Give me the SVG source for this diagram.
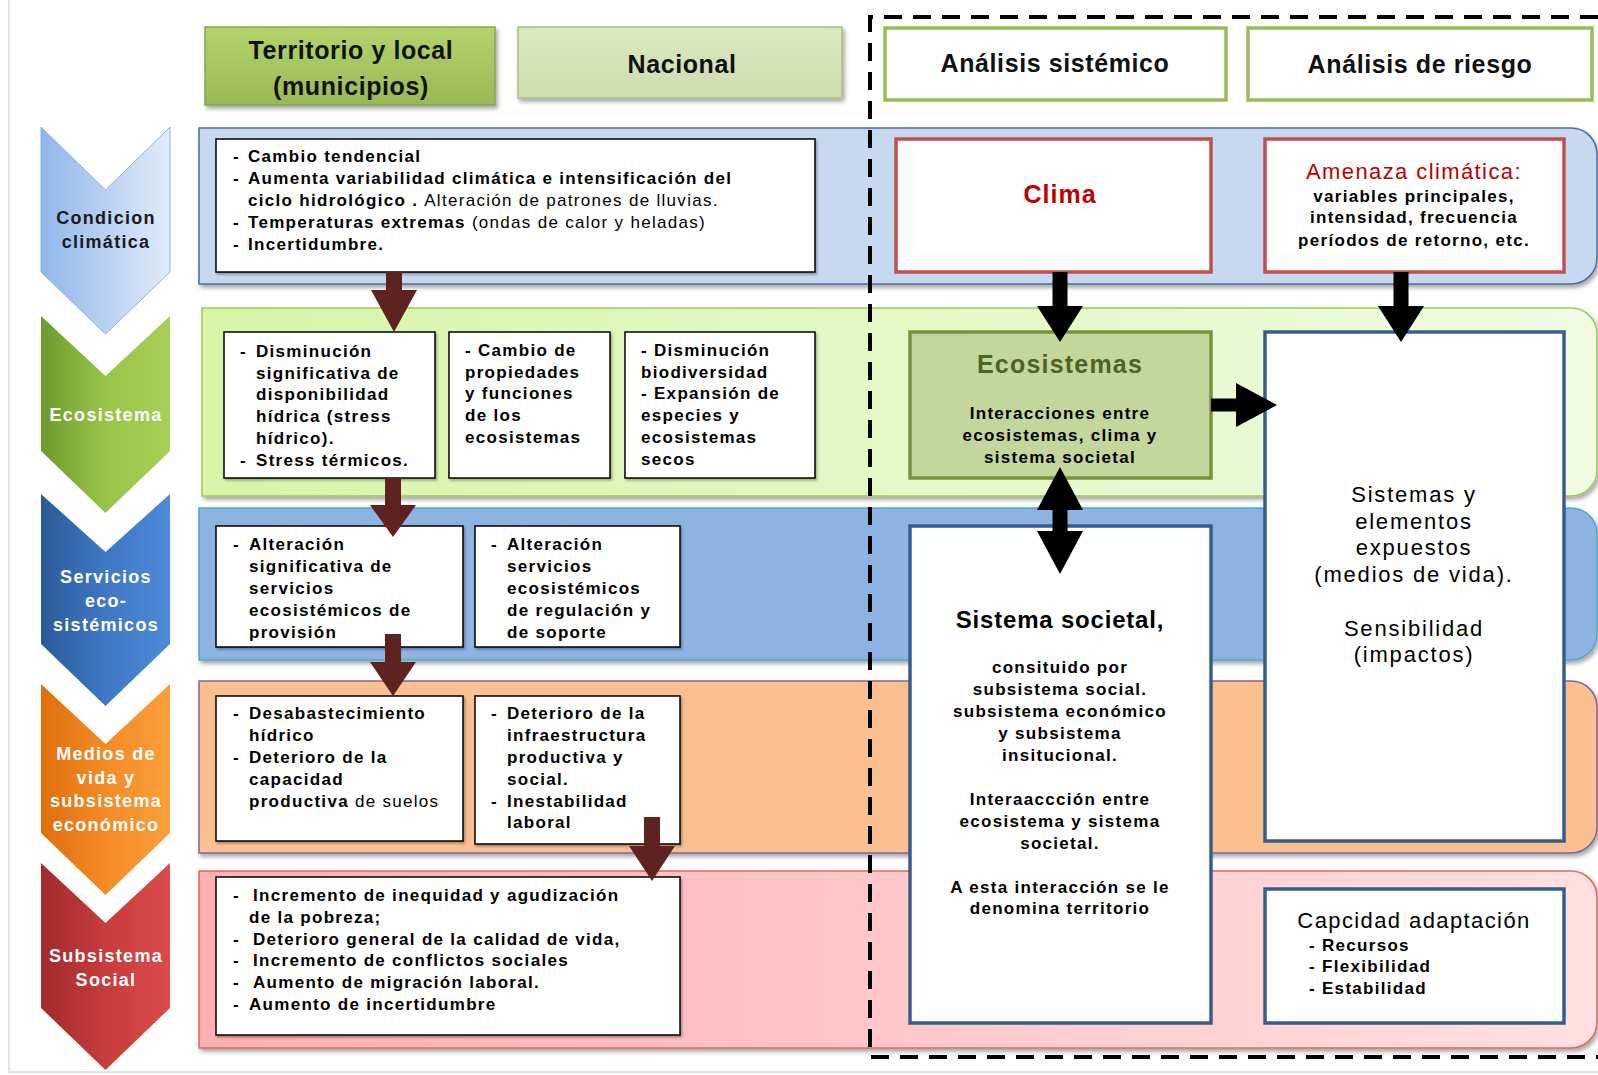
<svg xmlns="http://www.w3.org/2000/svg" width="1598" height="1075" viewBox="0 0 1598 1075">
<defs>
<style>
.t{font-family:"Liberation Sans Narrow","Liberation Sans",Arial,sans-serif;font-weight:bold;font-size:17px;letter-spacing:1.3px;fill:#000}
.n{font-weight:normal}
.hd{font-family:"Liberation Sans",Arial,sans-serif;font-weight:bold;font-size:25px;letter-spacing:0.6px;fill:#111;text-anchor:middle}
.chv{font-family:"Liberation Sans",Arial,sans-serif;font-weight:bold;font-size:18px;letter-spacing:1.3px;fill:#fff;text-anchor:middle}
.c{text-anchor:middle}
.box{fill:#fff;stroke:#000;stroke-width:1.5}
.rbox{fill:#fff;stroke:#C0504D;stroke-width:3.5}
.bbox{fill:#fff;stroke:#385D8A;stroke-width:3.5}
.ah{fill:#fff;stroke:#9BBB59;stroke-width:3.5}
.big{font-family:"Liberation Sans",Arial,sans-serif;font-size:22px;letter-spacing:1.8px;fill:#000;text-anchor:middle}
.darr{fill:#5E2221}
.karr{fill:#000}
</style>
<filter id="sh" x="-5%" y="-5%" width="110%" height="120%"><feDropShadow dx="2" dy="3" stdDeviation="2" flood-color="#000" flood-opacity="0.35"/></filter>
<filter id="sh2" x="-5%" y="-5%" width="110%" height="120%"><feDropShadow dx="1.5" dy="2" stdDeviation="1.2" flood-color="#000" flood-opacity="0.3"/></filter>
<linearGradient id="gC" x1="0" y1="0" x2="1" y2="0"><stop offset="0" stop-color="#8FB6EA"/><stop offset="1" stop-color="#E2ECFA"/></linearGradient>
<linearGradient id="gE" x1="0" y1="0" x2="1" y2="0"><stop offset="0" stop-color="#6E9A2E"/><stop offset="0.5" stop-color="#98C548"/><stop offset="1" stop-color="#A6D056"/></linearGradient>
<linearGradient id="gS" x1="0" y1="0" x2="1" y2="0"><stop offset="0" stop-color="#2C5A98"/><stop offset="0.5" stop-color="#3F78C4"/><stop offset="1" stop-color="#4D8AD8"/></linearGradient>
<linearGradient id="gM" x1="0" y1="0" x2="1" y2="0"><stop offset="0" stop-color="#DE700E"/><stop offset="0.5" stop-color="#F48A26"/><stop offset="1" stop-color="#FA9F3C"/></linearGradient>
<linearGradient id="gR" x1="0" y1="0" x2="1" y2="0"><stop offset="0" stop-color="#A12B2B"/><stop offset="0.5" stop-color="#C83C3C"/><stop offset="1" stop-color="#DC4A4A"/></linearGradient>
<linearGradient id="bE" x1="0" y1="0" x2="1" y2="0"><stop offset="0" stop-color="#D6F5A8"/><stop offset="1" stop-color="#F0FBE2"/></linearGradient>
<linearGradient id="bR" x1="0" y1="0" x2="1" y2="0"><stop offset="0" stop-color="#FFB0B0"/><stop offset="1" stop-color="#FFE0E0"/></linearGradient>
<linearGradient id="hT" x1="0" y1="0" x2="0" y2="1"><stop offset="0" stop-color="#B4D36C"/><stop offset="1" stop-color="#98B956"/></linearGradient>
<linearGradient id="hN" x1="0" y1="0" x2="0" y2="1"><stop offset="0" stop-color="#DAE7C0"/><stop offset="1" stop-color="#CFDEAF"/></linearGradient>
</defs>
<rect width="1598" height="1075" fill="#fff"/>
<path d="M9,0 V1072 H1598" fill="none" stroke="#E3E3E3" stroke-width="2"/>

<!-- bands -->
<g id="bands">
<path d="M199,128 H1571 A26,26 0 0 1 1597,154 V258 A26,26 0 0 1 1571,284 H199 Z" fill="#C6D9F1" stroke="#4F6C96" stroke-width="1.5" filter="url(#sh)"/>
<path d="M202,308 H1571 A26,26 0 0 1 1597,334 V470 A26,26 0 0 1 1571,496 H202 Z" fill="url(#bE)" stroke="#9BCB5A" stroke-width="1.5" filter="url(#sh)"/>
<path d="M199,508 H1571 A26,26 0 0 1 1597,534 V634 A26,26 0 0 1 1571,660 H199 Z" fill="#8DB3E2" stroke="#4BACC6" stroke-width="1.5" filter="url(#sh)"/>
<path d="M199,681 H1571 A26,26 0 0 1 1597,707 V827 A26,26 0 0 1 1571,853 H199 Z" fill="#FAC090" stroke="#8064A2" stroke-width="1.5" filter="url(#sh)"/>
<path d="M199,871 H1571 A26,26 0 0 1 1597,897 V1022 A26,26 0 0 1 1571,1048 H199 Z" fill="url(#bR)" stroke="#E06666" stroke-width="1.5" filter="url(#sh)"/>
</g>

<!-- left chevrons -->
<g id="chev-condicion">
<path d="M41,127 L105.5,190 L170,127 V272 L105.5,334 L41,272 Z" fill="url(#gC)" stroke="#8FB0DC" stroke-width="1"/>
<text class="chv" style="fill:#1a1a1a" x="106" y="224">Condicion</text>
<text class="chv" style="fill:#1a1a1a" x="106" y="248">climática</text>
</g>
<g id="chev-ecosistema">
<path d="M41,316 L105.5,376 L170,316 V451 L105.5,513 L41,451 Z" fill="url(#gE)"/>
<text class="chv" x="106" y="421">Ecosistema</text>
</g>
<g id="chev-servicios">
<path d="M41,494 L105.5,552 L170,494 V644 L105.5,706 L41,644 Z" fill="url(#gS)"/>
<text class="chv" x="106" y="583">Servicios</text>
<text class="chv" x="106" y="607">eco-</text>
<text class="chv" x="106" y="631">sistémicos</text>
</g>
<g id="chev-medios">
<path d="M41,684 L105.5,744 L170,684 V833 L105.5,895 L41,833 Z" fill="url(#gM)"/>
<text class="chv" x="106" y="760">Medios de</text>
<text class="chv" x="106" y="784">vida  y</text>
<text class="chv" x="106" y="807">subsistema</text>
<text class="chv" x="106" y="831">económico</text>
</g>
<g id="chev-social">
<path d="M41,863 L105.5,923 L170,863 V1008 L105.5,1070 L41,1008 Z" fill="url(#gR)"/>
<text class="chv" x="106" y="962">Subsistema</text>
<text class="chv" x="106" y="986">Social</text>
</g>

<!-- headers -->
<g id="hdr-territorio">
<rect x="205" y="27" width="290" height="78" fill="url(#hT)" stroke="#86A548" stroke-width="1.5" filter="url(#sh)"/>
<text class="hd" x="351" y="59">Territorio y local</text>
<text class="hd" x="351" y="95">(municipios)</text>
</g>
<g id="hdr-nacional">
<rect x="518" y="27" width="324" height="71" fill="url(#hN)" stroke="#A9BE84" stroke-width="1.5" filter="url(#sh)"/>
<text class="hd" x="682" y="73">Nacional</text>
</g>
<g id="hdr-sistemico">
<rect x="885" y="28" width="341" height="72" class="ah"/>
<text class="hd" x="1055" y="72">Análisis sistémico</text>
</g>
<g id="hdr-riesgo">
<rect x="1248" y="28" width="344" height="72" class="ah"/>
<text class="hd" x="1420" y="73">Análisis de riesgo</text>
</g>

<!-- left content boxes -->
<g id="box-condicion">
<rect x="216" y="139" width="599" height="133" class="box" filter="url(#sh2)"/>
<text class="t" x="233" y="162">-</text><text class="t" x="248" y="162">Cambio tendencial</text>
<text class="t" x="233" y="184">-</text><text class="t" x="248" y="184">Aumenta variabilidad  climática e intensificación  del</text>
<text class="t" x="248" y="206">ciclo hidrológico . <tspan class="n">Alteración de patrones de lluvias.</tspan></text>
<text class="t" x="233" y="228">-</text><text class="t" x="248" y="228">Temperaturas  extremas  <tspan class="n">(ondas de calor y heladas)</tspan></text>
<text class="t" x="233" y="250">-</text><text class="t" x="248" y="250">Incertidumbre.</text>
</g>

<g id="box-eco1">
<rect x="224" y="332" width="211" height="146" class="box" filter="url(#sh2)"/>
<text class="t" x="240" y="357">-</text><text class="t" x="256" y="357">Disminución</text>
<text class="t" x="256" y="379">significativa de</text>
<text class="t" x="256" y="400">disponibilidad</text>
<text class="t" x="256" y="422">hídrica (stress</text>
<text class="t" x="256" y="444">hídrico).</text>
<text class="t" x="240" y="466">-</text><text class="t" x="256" y="466">Stress térmicos.</text>
</g>
<g id="box-eco2">
<rect x="449" y="332" width="161" height="146" class="box" filter="url(#sh2)"/>
<text class="t" x="465" y="356">- Cambio de</text>
<text class="t" x="465" y="378">propiedades</text>
<text class="t" x="465" y="399">y funciones</text>
<text class="t" x="465" y="421">de los</text>
<text class="t" x="465" y="443">ecosistemas</text>
</g>
<g id="box-eco3">
<rect x="625" y="332" width="190" height="146" class="box" filter="url(#sh2)"/>
<text class="t" x="641" y="356">- Disminución</text>
<text class="t" x="641" y="378">biodiversidad</text>
<text class="t" x="641" y="399">- Expansión  de</text>
<text class="t" x="641" y="421">especies  y</text>
<text class="t" x="641" y="443">ecosistemas</text>
<text class="t" x="641" y="465">secos</text>
</g>

<g id="box-serv1">
<rect x="216" y="526" width="247" height="121" class="box" filter="url(#sh2)"/>
<text class="t" x="233" y="550">-</text><text class="t" x="249" y="550">Alteración</text>
<text class="t" x="249" y="572">significativa de</text>
<text class="t" x="249" y="594">servicios</text>
<text class="t" x="249" y="616">ecosistémicos  de</text>
<text class="t" x="249" y="638">provisión</text>
</g>
<g id="box-serv2">
<rect x="475" y="526" width="205" height="121" class="box" filter="url(#sh2)"/>
<text class="t" x="491" y="550">-</text><text class="t" x="507" y="550">Alteración</text>
<text class="t" x="507" y="572">servicios</text>
<text class="t" x="507" y="594">ecosistémicos</text>
<text class="t" x="507" y="616">de regulación  y</text>
<text class="t" x="507" y="638">de soporte</text>
</g>

<g id="box-medios1">
<rect x="216" y="696" width="247" height="145" class="box" filter="url(#sh2)"/>
<text class="t" x="233" y="719">-</text><text class="t" x="249" y="719">Desabastecimiento</text>
<text class="t" x="249" y="741">hídrico</text>
<text class="t" x="233" y="763">-</text><text class="t" x="249" y="763">Deterioro  de la</text>
<text class="t" x="249" y="785">capacidad</text>
<text class="t" x="249" y="807">productiva <tspan class="n">de suelos</tspan></text>
</g>
<g id="box-medios2">
<rect x="475" y="696" width="205" height="148" class="box" filter="url(#sh2)"/>
<text class="t" x="491" y="719">-</text><text class="t" x="507" y="719">Deterioro  de la</text>
<text class="t" x="507" y="741">infraestructura</text>
<text class="t" x="507" y="763">productiva y</text>
<text class="t" x="507" y="785">social.</text>
<text class="t" x="491" y="807">-</text><text class="t" x="507" y="807">Inestabilidad</text>
<text class="t" x="507" y="828">laboral</text>
</g>

<g id="box-social">
<rect x="216" y="877" width="464" height="158" class="box" filter="url(#sh2)"/>
<text class="t" x="233" y="901">-</text><text class="t" x="253" y="901">Incremento  de inequidad y agudización</text>
<text class="t" x="249" y="923">de la pobreza;</text>
<text class="t" x="233" y="945">-</text><text class="t" x="253" y="945">Deterioro  general  de la calidad de vida,</text>
<text class="t" x="233" y="966">-</text><text class="t" x="253" y="966">Incremento  de conflictos  sociales</text>
<text class="t" x="233" y="988">-</text><text class="t" x="253" y="988">Aumento  de migración laboral.</text>
<text class="t" x="233" y="1010">-</text><text class="t" x="249" y="1010">Aumento  de incertidumbre</text>
</g>

<!-- right side nodes -->
<g id="node-clima">
<rect x="896" y="139" width="315" height="133" class="rbox"/>
<text x="1060" y="203" style="font-family:'Liberation Sans',Arial,sans-serif;font-weight:bold;font-size:25px;letter-spacing:1px;fill:#C00000;text-anchor:middle">Clima</text>
</g>
<g id="node-amenaza">
<rect x="1265" y="139" width="299" height="133" class="rbox"/>
<text x="1414" y="179" style="font-family:'Liberation Sans',Arial,sans-serif;font-size:22px;letter-spacing:1.4px;fill:#C00000;text-anchor:middle">Amenaza climática:</text>
<text class="t c" x="1414" y="202">variables principales,</text>
<text class="t c" x="1414" y="223">intensidad,  frecuencia</text>
<text class="t c" x="1414" y="246">períodos de retorno, etc.</text>
</g>
<g id="node-ecosistemas">
<rect x="910" y="332" width="301" height="146" fill="#C3D69B" stroke="#77933C" stroke-width="3.5"/>
<text x="1060" y="373" style="font-family:'Liberation Sans',Arial,sans-serif;font-weight:bold;font-size:25px;letter-spacing:1.2px;fill:#4F6228;text-anchor:middle">Ecosistemas</text>
<text class="t c" x="1060" y="419">Interacciones  entre</text>
<text class="t c" x="1060" y="441">ecosistemas,  clima  y</text>
<text class="t c" x="1060" y="463">sistema societal</text>
</g>
<g id="node-expuestos">
<rect x="1265" y="332" width="299" height="509" class="bbox"/>
<text class="big" x="1414" y="502">Sistemas y</text>
<text class="big" x="1414" y="529">elementos</text>
<text class="big" x="1414" y="555">expuestos</text>
<text class="big" x="1414" y="582">(medios  de vida).</text>
<text class="big" x="1414" y="636">Sensibilidad</text>
<text class="big" x="1414" y="662">(impactos)</text>
</g>
<g id="node-societal">
<rect x="910" y="526" width="301" height="497" class="bbox"/>
<text x="1060" y="628" style="font-family:'Liberation Sans',Arial,sans-serif;font-weight:bold;font-size:24px;letter-spacing:0.8px;fill:#000;text-anchor:middle">Sistema societal,</text>
<text class="t c" x="1060" y="673">consituido por</text>
<text class="t c" x="1060" y="695">subsistema social.</text>
<text class="t c" x="1060" y="717">subsistema económico</text>
<text class="t c" x="1060" y="739">y subsistema</text>
<text class="t c" x="1060" y="761">insitucional.</text>
<text class="t c" x="1060" y="805">Interaaccción  entre</text>
<text class="t c" x="1060" y="827">ecosistema y sistema</text>
<text class="t c" x="1060" y="849">societal.</text>
<text class="t c" x="1060" y="893">A esta interacción  se le</text>
<text class="t c" x="1060" y="914">denomina territorio</text>
</g>
<g id="node-capacidad">
<rect x="1265" y="889" width="299" height="134" class="bbox"/>
<text x="1414" y="928" style="font-family:'Liberation Sans',Arial,sans-serif;font-size:22px;letter-spacing:1.4px;fill:#000;text-anchor:middle">Capcidad adaptación</text>
<text class="t" x="1309" y="951">- Recursos</text>
<text class="t" x="1309" y="972">- Flexibilidad</text>
<text class="t" x="1309" y="994">- Estabilidad</text>
</g>

<!-- connectors -->
<g id="connectors">
<polygon class="darr" points="386,272 402,272 402,290 417,290 394,332 371,290 386,290"/>
<polygon class="darr" points="385,478 401,478 401,505 416,505 393,537 370,505 385,505"/>
<polygon class="darr" points="385,634 401,634 401,662 416,662 393,696 370,662 385,662"/>
<polygon class="darr" points="644,817 660,817 660,846 675,846 652,881 629,846 644,846"/>
<polygon class="karr" points="1052.5,272 1067.5,272 1067.5,306 1083,306 1060,342 1037,306 1052.5,306"/>
<polygon class="karr" points="1393.5,272 1408.5,272 1408.5,306 1424,306 1401,342 1378,306 1393.5,306"/>
<polygon class="karr" points="1211,398.5 1236,398.5 1236,383 1277,405 1236,427 1236,411.5 1211,411.5"/>
<polygon class="karr" points="1060,467 1083,510 1067.5,510 1067.5,531 1083,531 1060,574 1037,531 1052.5,531 1052.5,510 1037,510"/>
<path d="M1598,17 H870 V1057 H1598" fill="none" stroke="#000" stroke-width="4" stroke-dasharray="18 11"/>
</g>
</svg>
